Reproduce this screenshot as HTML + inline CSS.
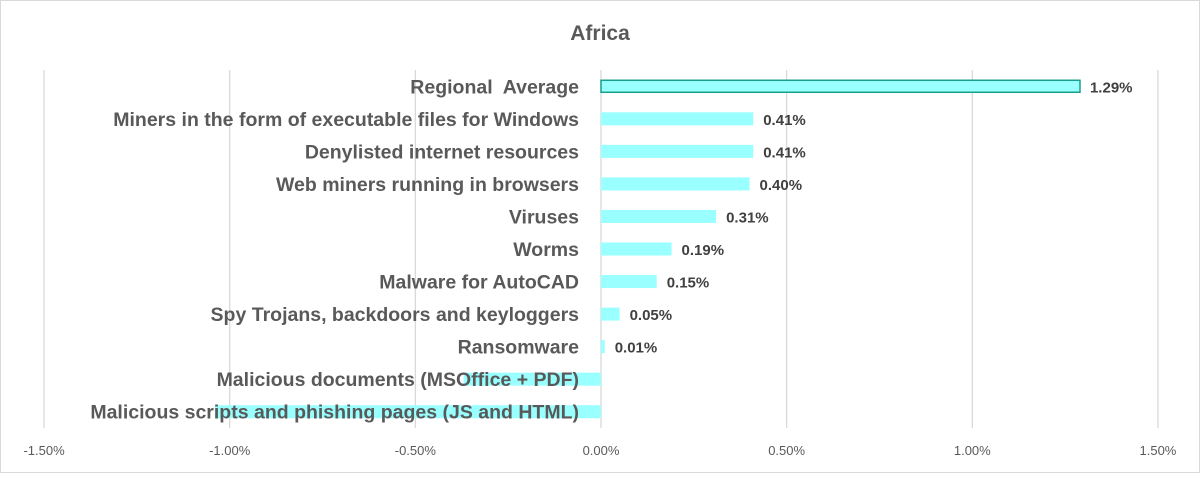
<!DOCTYPE html>
<html><head><meta charset="utf-8">
<style>
html,body{margin:0;padding:0;background:#fff;}
body{width:1200px;height:473px;overflow:hidden;font-family:"Liberation Sans",Arial,sans-serif;}
svg text{font-family:"Liberation Sans",Arial,sans-serif;white-space:pre;}
</style></head>
<body>
<svg id="chart" width="1200" height="473" xmlns="http://www.w3.org/2000/svg">
<rect x="0.5" y="0.5" width="1199" height="472" fill="#fff" stroke="#d9d9d9"/>
<text x="600" y="40" text-anchor="middle" font-size="21" font-weight="bold" fill="#595959">Africa</text>
<g id="grid"></g>
<g id="bars"></g>
<g id="labels"></g>
</svg>
<script>
const categories = ["Regional  Average","Miners in the form of executable files for Windows","Denylisted internet resources","Web miners running in browsers","Viruses","Worms","Malware for AutoCAD","Spy Trojans, backdoors and keyloggers","Ransomware","Malicious documents (MSOffice + PDF)","Malicious scripts and phishing pages (JS and HTML)"];
const values = [1.29,0.41,0.41,0.40,0.31,0.19,0.15,0.05,0.01,-0.37,-1.04];
const valueLabels = ["1.29%","0.41%","0.41%","0.40%","0.31%","0.19%","0.15%","0.05%","0.01%","",""];
const ticks = [-1.5,-1.0,-0.5,0,0.5,1.0,1.5];
const tickLabels = ["-1.50%","-1.00%","-0.50%","0.00%","0.50%","1.00%","1.50%"];

const NS="http://www.w3.org/2000/svg";
const x0=601, unit=371.3, plotTop=70, plotBottom=428;
const xs=v=>x0+v*unit;
const step=(plotBottom-plotTop)/categories.length;
const yc=i=>plotTop+step*(i+0.5);
const grid=document.getElementById('grid'), bars=document.getElementById('bars'), labels=document.getElementById('labels');
function mk(tag,attrs,parent){const e=document.createElementNS(NS,tag);for(const k in attrs)e.setAttribute(k,attrs[k]);parent.appendChild(e);return e;}
ticks.forEach((t,i)=>{
  const l=mk('line',{x1:xs(t),x2:xs(t),y1:plotTop,y2:plotBottom,stroke:'#d9d9d9','stroke-width':1.3},grid);
  
  
  const tx=mk('text',{x:xs(t),y:455,'text-anchor':'middle','font-size':13,fill:'#595959'},grid);
  tx.textContent=tickLabels[i];
  
  
});
values.forEach((v,i)=>{
  const h=i===0?12:13;
  const r=mk('rect',{x:Math.min(xs(0),xs(v)),y:yc(i)-h/2,width:Math.abs(xs(v)-xs(0)),height:h,fill:'#99ffff'},bars);
  if(i===0){r.setAttribute('stroke','#1aa08a');r.setAttribute('stroke-width','1.5');}
  
  
  if(valueLabels[i]){
    const t=mk('text',{x:xs(v)+10,y:yc(i)+6,'font-size':15,'font-weight':'bold',fill:'#404040'},labels);
    t.textContent=valueLabels[i];
    
    
  }
});
categories.forEach((c,i)=>{
  const t=mk('text',{x:579,y:yc(i)+7,'text-anchor':'end','font-size':19.5,'font-weight':'bold',fill:'#595959'},labels);
  t.textContent=c;
  
  
});
</script>
</body></html>
